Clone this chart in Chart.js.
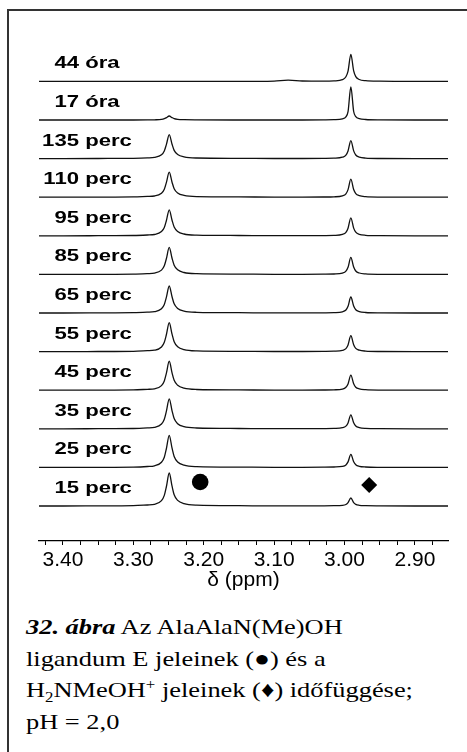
<!DOCTYPE html>
<html>
<head>
<meta charset="utf-8">
<script src="https://cdn.jsdelivr.net/npm/chart.js@4/dist/chart.umd.min.js"></script>
<style>
  body { margin: 0; background: #fff; width: 467px; height: 752px; overflow: hidden; position: relative; }
  #frame { position: absolute; left: 7px; top: 9px; right: -5px; bottom: -5px; border-top: 2px solid #333; border-left: 2px solid #333; }
  #spectra { position: absolute; left: 0; top: 0; }
  #caption { position: absolute; left: 26px; top: 611px; font: 22px "Liberation Serif", "Times New Roman", serif; line-height: 31.7px; color: #000; transform: scaleX(1.2); transform-origin: 0 0; white-space: nowrap; }
  #caption sub, #caption sup { font-size: 14px; line-height: 0; }
</style>
</head>
<body>
<div id="frame"></div>
<canvas id="spectra" width="467" height="600"></canvas>
<div id="caption"><b><i>32. ábra</i></b> Az AlaAlaN(Me)OH<br>ligandum E jeleinek (●) és a<br>H<sub>2</sub>NMeOH<sup>+</sup> jeleinek (♦) időfüggése;<br>pH = 2,0</div>
<script>
// chemical shift sample points (ppm), shared by all traces
const shiftPpm = [3.434, 3.40, 3.35, 3.30, 3.28, 3.27, 3.26, 3.256, 3.253, 3.249, 3.245, 3.242, 3.237, 3.228, 3.21, 3.15,
                  3.10, 3.08, 3.06, 3.03, 3.015, 3.003, 2.998, 2.995, 2.991, 2.987, 2.984, 2.979, 2.97, 2.95, 2.90, 2.853];

// bottom to top
const traceNames = ['15 perc', '25 perc', '35 perc', '45 perc', '55 perc', '65 perc',
                    '85 perc', '95 perc', '110 perc', '135 perc', '17 óra', '44 óra'];

const s15  = [0,0,0.1,0.3,1.0,1.6,5.3,10.6,19.5,33,19.8,11.2,5.6,2.3,0.8,0.3,0.1,0.1,0.1,0.2,0.3,0.6,1.5,3.4,8,3.4,1.6,0.7,0.3,0.1,0,0];
const s25  = [0,0,0.1,0.3,0.9,1.6,5.1,10.2,18.9,32,19.2,10.9,5.4,2.2,0.8,0.3,0.1,0.1,0.1,0.2,0.4,1.0,2.5,5.5,13,5.6,2.6,1.1,0.4,0.1,0,0];
const s35  = [0,0,0.1,0.3,0.9,1.5,4.8,9.6,17.7,30,18,10.2,5.1,2.1,0.8,0.3,0.1,0.1,0.1,0.2,0.4,1.1,2.7,5.9,14,6,2.8,1.2,0.4,0.1,0,0];
const s45  = [0,0,0.1,0.3,0.9,1.4,4.6,9.3,17.1,29,17.4,9.9,4.9,2.0,0.7,0.3,0.1,0.1,0.1,0.2,0.4,1.1,2.9,6.3,15,6.5,3.0,1.3,0.5,0.1,0,0];
const s55  = [0,0,0.1,0.3,0.9,1.4,4.6,9.3,17.1,29,17.4,9.9,4.9,2.0,0.7,0.3,0.1,0.1,0.1,0.2,0.4,1.2,3.0,6.7,16,6.9,3.2,1.4,0.5,0.1,0,0];
const s65  = [0,0,0.1,0.3,0.8,1.3,4.3,8.6,15.9,27,16.2,9.2,4.6,1.9,0.7,0.3,0.1,0.1,0.1,0.2,0.4,1.2,3.0,6.7,16,6.9,3.2,1.4,0.5,0.1,0,0];
const s85  = [0,0,0.1,0.3,0.8,1.3,4.3,8.6,15.9,27,16.2,9.2,4.6,1.9,0.7,0.3,0.1,0.1,0.1,0.2,0.4,1.3,3.2,7.1,17,7.3,3.4,1.4,0.5,0.1,0,0];
const s95  = [0,0,0.1,0.3,0.8,1.3,4.2,8.3,15.3,26,15.6,8.8,4.4,1.8,0.7,0.3,0.1,0.1,0.1,0.2,0.4,1.4,3.4,7.6,18,7.7,3.6,1.5,0.5,0.1,0,0];
const s110 = [0,0,0.1,0.3,0.8,1.2,4.0,8.0,14.8,25,15,8.5,4.3,1.8,0.6,0.3,0.1,0.1,0.1,0.2,0.4,1.4,3.4,7.6,18,7.7,3.6,1.5,0.5,0.1,0,0];
const s135 = [0,0,0.1,0.3,0.7,1.2,3.8,7.7,14.2,24,14.4,8.2,4.1,1.7,0.6,0.3,0.1,0.1,0.1,0.2,0.4,1.4,3.4,7.6,18,7.7,3.6,1.5,0.5,0.1,0,0];
const s17h = [0,0,0,0,0.1,0.2,0.6,1.3,2.4,4,2.4,1.4,0.7,0.3,0.1,0,0,0,0,0.1,0.3,1.2,3.2,8.3,33,8.5,3.4,1.4,0.5,0.1,0,0];
const s44h = [0,0,0,0,0,0,0,0,0,0,0,0,0,0,0,0,0.3,1.2,0.4,0.2,0.5,1.7,4.6,10.3,27,10.5,4.8,1.9,0.7,0.2,0,0];

const traces = [s15, s25, s35, s45, s55, s65, s85, s95, s110, s135, s17h, s44h];

// symbols marking the two signals, drawn over the lowest trace
const markerPpm = [3.205, 2.965];
const markerHeight = [24, 21];
const markerStyle = ['circle', 'rectRot'];

const ROW_GAP = 38.6;
const LABEL_STRETCH = 1.34;

const datasets = traces.map((vals, i) => ({
  data: vals.map((v, k) => ({ x: shiftPpm[k], y: i * ROW_GAP + v })),
  borderColor: '#111',
  borderWidth: 1.3,
  pointRadius: 0,
  cubicInterpolationMode: 'monotone',
  fill: false
}));

datasets.push({
  data: markerPpm.map((x, k) => ({ x: x, y: markerHeight[k] })),
  showLine: false,
  pointStyle: markerStyle,
  pointRadius: [8.3, 8],
  backgroundColor: '#000',
  borderColor: '#000',
  borderWidth: 0
});

const rowLabels = {
  id: 'rowLabels',
  afterDatasetsDraw(chart) {
    const ctx = chart.ctx;
    const y = chart.scales.y;
    ctx.save();
    ctx.font = 'bold 16.5px "Liberation Sans", Arial, sans-serif';
    ctx.fillStyle = '#000';
    ctx.textBaseline = 'alphabetic';
    ctx.textAlign = 'left';
    traceNames.forEach((name, i) => {
      const num = name.split(' ')[0];
      const w = ctx.measureText(num).width * LABEL_STRETCH;
      const py = y.getPixelForValue(i * ROW_GAP) - 13;
      ctx.save();
      ctx.translate(79 - w, py);
      ctx.scale(LABEL_STRETCH, 1);
      ctx.fillText(name, 0, 0);
      ctx.restore();
    });
    ctx.restore();
  }
};

const axisFont = { family: '"Liberation Sans", Arial, sans-serif', size: 21 };

new Chart(document.getElementById('spectra'), {
  type: 'line',
  data: { datasets: datasets },
  options: {
    responsive: false,
    animation: false,
    devicePixelRatio: 1,
    layout: { padding: { left: 39, right: 19, top: 40, bottom: 7.6 } },
    plugins: { legend: { display: false }, tooltip: { enabled: false } },
    scales: {
      x: {
        type: 'linear',
        reverse: true,
        min: 2.853,
        max: 3.434,
        grid: { drawOnChartArea: false, tickLength: 4, color: '#000', lineWidth: 1 },
        border: { color: '#000', width: 1.2 },
        ticks: {
          stepSize: 0.025,
          autoSkip: false,
          includeBounds: false,
          maxRotation: 0,
          padding: 3,
          color: '#000',
          font: axisFont,
          callback: v => Math.abs(v * 10 - Math.round(v * 10)) < 1e-6 ? v.toFixed(2) : ''
        },
        title: { display: true, text: 'δ (ppm)', color: '#000', font: axisFont, padding: { top: -9, bottom: 0 } }
      },
      y: { display: false, min: -35, max: 466 }
    }
  },
  plugins: [rowLabels]
});
</script>
</body>
</html>
